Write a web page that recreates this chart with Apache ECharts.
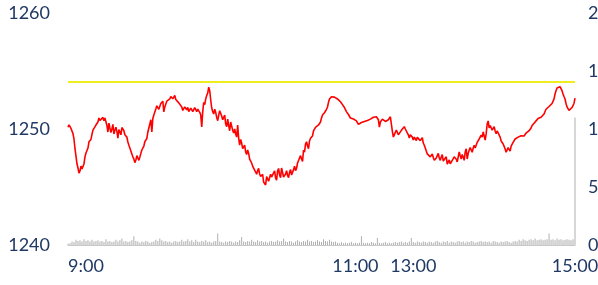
<!DOCTYPE html>
<html>
<head>
<meta charset="utf-8">
<script src="https://cdn.jsdelivr.net/npm/echarts@6/dist/echarts.min.js"></script>
<style>
  html, body { margin: 0; padding: 0; background: #fff; }
  #chart { width: 598px; height: 285px; }
</style>
</head>
<body>
<div id="chart"></div>
<script>
// price trace, read off roughly every pixel across the session
const prices = [
  1250.15, 1250.35, 1250.2, 1250.05, 1249.96, 1249.6, 1249.14, 1248.3, 1247.67, 1247.0,
  1246.64, 1246.2, 1246.38, 1246.8, 1246.55, 1246.4, 1246.98, 1247.6, 1247.93, 1247.9,
  1248.36, 1248.9, 1249.05, 1249.1, 1249.53, 1249.9, 1249.85, 1249.95, 1250.34, 1250.3,
  1250.6, 1250.95, 1250.73, 1250.6, 1250.86, 1251.0, 1250.72, 1250.95, 1250.86, 1250.3,
  1249.74, 1250.5, 1250.09, 1249.7, 1250.0, 1250.4, 1249.57, 1249.9, 1250.15, 1249.8,
  1249.22, 1249.95, 1249.74, 1249.5, 1250.13, 1250.2, 1249.85, 1249.5, 1249.4, 1249.3,
  1248.88, 1248.6, 1248.36, 1248.5, 1247.85, 1247.6, 1247.41, 1247.1, 1247.33, 1247.7,
  1247.5, 1247.3, 1247.59, 1247.9, 1248.19, 1248.1, 1248.53, 1248.9, 1249.05, 1249.2,
  1249.74, 1249.9, 1250.43, 1250.8, 1249.74, 1250.9, 1251.21, 1251.1, 1251.72, 1252.0,
  1251.98, 1251.7, 1251.87, 1252.2, 1252.33, 1252.4, 1251.47, 1251.9, 1252.07, 1252.4,
  1252.41, 1252.3, 1252.59, 1252.8, 1252.73, 1252.6, 1252.76, 1252.9, 1252.54, 1252.7,
  1252.46, 1252.25, 1252.3, 1252.1, 1251.9, 1251.6, 1251.47, 1251.9, 1251.81, 1251.65,
  1251.87, 1251.5, 1251.58, 1251.8, 1251.72, 1251.5, 1251.6, 1251.85, 1251.68, 1251.5,
  1251.72, 1251.8, 1251.44, 1251.2, 1250.17, 1251.5, 1252.3, 1252.1, 1252.59, 1252.9,
  1253.1, 1253.6, 1253.3, 1252.5, 1251.81, 1251.5, 1251.29, 1251.7, 1251.44, 1251.0,
  1250.72, 1251.2, 1251.58, 1251.7, 1251.12, 1250.8, 1250.86, 1251.2, 1250.43, 1250.2,
  1250.86, 1250.3, 1249.85, 1250.6, 1250.43, 1249.9, 1249.66, 1250.0, 1249.57, 1249.3,
  1250.34, 1249.2, 1248.62, 1249.1, 1248.79, 1248.3, 1248.45, 1248.6, 1248.02, 1247.8,
  1248.19, 1247.9, 1247.41, 1247.5, 1247.07, 1246.8, 1246.64, 1246.9, 1246.29, 1246.1,
  1246.41, 1246.6, 1246.12, 1245.9, 1245.86, 1246.1, 1245.43, 1245.5, 1245.17, 1245.9,
  1246.03, 1245.5, 1245.6, 1246.1, 1245.86, 1245.7, 1246.21, 1246.4, 1245.78, 1245.6,
  1246.38, 1246.6, 1246.03, 1245.8, 1246.64, 1246.5, 1245.86, 1245.7, 1246.12, 1246.4,
  1245.99, 1245.8, 1246.29, 1246.5, 1246.03, 1245.9, 1246.5, 1246.8, 1246.41, 1246.6,
  1247.07, 1246.9, 1247.5, 1247.7, 1247.41, 1247.2, 1248.19, 1248.0, 1248.71, 1248.9,
  1248.53, 1248.3, 1248.97, 1249.2, 1249.05, 1249.4, 1249.83, 1249.9, 1250.15, 1250.1,
  1250.26, 1250.35, 1250.26, 1250.6, 1250.95, 1251.2, 1251.34, 1251.4, 1251.55, 1251.7,
  1251.9, 1252.3, 1252.59, 1252.75, 1252.78, 1252.7, 1252.67, 1252.75, 1252.71, 1252.65,
  1252.59, 1252.55, 1252.46, 1252.35, 1252.22, 1252.1, 1251.98, 1251.85, 1251.68, 1251.5,
  1251.38, 1251.25, 1251.08, 1250.95, 1250.86, 1250.9, 1250.86, 1250.8, 1250.73, 1250.7,
  1250.56, 1250.4, 1250.34, 1250.5, 1250.56, 1250.45, 1250.52, 1250.65, 1250.69, 1250.75,
  1250.73, 1250.8, 1250.86, 1250.85, 1250.92, 1251.0, 1251.01, 1250.95, 1250.99, 1251.05,
  1250.91, 1250.8, 1250.17, 1250.6, 1250.72, 1250.85, 1250.95, 1250.8, 1250.65, 1250.75,
  1250.69, 1250.8, 1250.95, 1251.05, 1250.43, 1249.8, 1249.31, 1249.5, 1249.72, 1249.9,
  1249.74, 1249.5, 1249.57, 1249.75, 1249.85, 1250.0, 1250.13, 1250.2, 1250.0, 1250.1,
  1249.91, 1249.5, 1249.22, 1249.5, 1249.57, 1249.3, 1249.05, 1249.3, 1249.14, 1249.0,
  1249.28, 1249.4, 1249.18, 1249.0, 1249.14, 1249.25, 1248.79, 1248.6, 1248.36, 1248.1,
  1247.85, 1248.0, 1247.8, 1247.6, 1247.67, 1247.85, 1247.55, 1247.3, 1247.33, 1247.5,
  1247.7, 1247.9, 1247.5, 1247.3, 1247.59, 1247.8, 1247.24, 1247.1, 1247.37, 1247.6,
  1246.98, 1247.1, 1247.33, 1247.0, 1246.98, 1247.3, 1247.33, 1247.6, 1247.76, 1247.4,
  1247.16, 1247.6, 1248.02, 1247.7, 1247.41, 1247.8, 1247.59, 1247.3, 1248.02, 1248.3,
  1247.41, 1247.9, 1248.19, 1248.4, 1248.28, 1248.0, 1248.36, 1248.6, 1248.36, 1248.2,
  1248.85, 1249.0, 1249.14, 1249.3, 1249.48, 1249.3, 1249.74, 1249.9, 1249.05, 1249.6,
  1250.43, 1250.7, 1250.09, 1250.3, 1250.17, 1249.9, 1250.0, 1250.2, 1249.83, 1249.6,
  1249.83, 1249.95, 1249.66, 1249.3, 1248.97, 1249.1, 1248.71, 1248.5, 1248.28, 1248.0,
  1248.15, 1248.4, 1248.28, 1248.1, 1248.53, 1248.7, 1248.85, 1249.0, 1249.14, 1249.05,
  1249.22, 1249.3, 1249.35, 1249.25, 1249.42, 1249.5, 1249.57, 1249.4, 1249.48, 1249.65,
  1249.74, 1249.8, 1249.85, 1249.95, 1250.09, 1250.3, 1250.43, 1250.5, 1250.6, 1250.7,
  1250.82, 1250.9, 1250.95, 1250.9, 1251.01, 1251.1, 1251.15, 1251.3, 1251.51, 1251.7,
  1251.85, 1251.8, 1251.94, 1252.05, 1252.11, 1252.2, 1252.3, 1252.6, 1253.02, 1253.3,
  1253.53, 1253.45, 1253.53, 1253.65, 1253.58, 1253.3, 1253.02, 1252.8, 1252.59, 1252.2,
  1251.9, 1251.75, 1251.6, 1251.65, 1251.77, 1251.85, 1251.81, 1252.2, 1252.67
];

// traded volume, one bar about every 2px (right axis)
const volumes = [
  0.1, 0.15, 0.3, 0.25, 0.45, 0.35, 0.4, 0.3, 0.5, 0.35, 0.4, 0.3, 0.45, 0.3, 0.35,
  0.4, 0.3, 0.35, 0.25, 0.5, 0.3, 0.35, 0.25, 0.3, 0.45, 0.3, 0.4, 0.55, 0.3, 0.35,
  0.25, 0.3, 0.4, 0.75, 0.35, 0.3, 0.2, 0.3, 0.25, 0.35, 0.3, 0.2, 0.25, 0.3, 0.45,
  0.35, 0.55, 0.4, 0.3, 0.35, 0.25, 0.3, 0.2, 0.3, 0.35, 0.25, 0.3, 0.45, 0.3, 0.35,
  0.5, 0.3, 0.4, 0.25, 0.45, 0.3, 0.25, 0.35, 0.3, 0.4, 0.25, 0.3, 0.2, 0.3, 0.35,
  1.0, 0.3, 0.25, 0.2, 0.3, 0.25, 0.35, 0.3, 0.2, 0.3, 0.25, 0.4, 0.7, 0.3, 0.25,
  0.35, 0.3, 0.45, 0.3, 0.25, 0.4, 0.3, 0.35, 0.25, 0.3, 0.2, 0.3, 0.35, 0.25, 0.3,
  0.4, 0.3, 0.35, 0.55, 0.3, 0.25, 0.35, 0.3, 0.2, 0.3, 0.4, 0.3, 0.25, 0.35, 0.3,
  0.45, 0.3, 0.35, 0.25, 0.3, 0.4, 0.3, 0.25, 0.5, 0.35, 0.3, 0.45, 0.3, 0.25, 0.3,
  0.2, 0.15, 0.25, 0.15, 0.2, 0.15, 0.2, 0.25, 0.15, 0.2, 0.15, 0.2, 0.75, 0.2, 0.15,
  0.2, 0.15, 0.25, 0.2, 0.15, 0.6, 0.2, 0.15, 0.2, 0.25, 0.15, 0.2, 0.15, 0.2, 0.25,
  0.2, 0.25, 0.3, 0.2, 0.25, 0.2, 0.3, 0.6, 0.25, 0.2, 0.3, 0.25, 0.2, 0.3, 0.25,
  0.2, 0.3, 0.25, 0.2, 0.3, 0.35, 0.25, 0.2, 0.3, 0.25, 0.35, 0.2, 0.3, 0.25, 0.2,
  0.3, 0.35, 0.25, 0.3, 0.2, 0.3, 0.25, 0.35, 0.3, 0.2, 0.25, 0.3, 0.35, 0.25, 0.3,
  0.25, 0.3, 0.2, 0.35, 0.3, 0.25, 0.2, 0.3, 0.25, 0.3, 0.35, 0.25, 0.2, 0.3, 0.35,
  0.3, 0.45, 0.35, 0.5, 0.4, 0.35, 0.45, 0.5, 0.4, 0.55, 0.4, 0.45, 0.5, 0.4, 0.45,
  0.5, 1.0, 0.45, 0.5, 0.4, 0.55, 0.45, 0.5, 0.4, 0.45, 0.5, 0.45, 0.4, 0.5, 11
];

const refLevel = 1254.05;

// volume bars that carry a time label
const tickIdx = [9, 144, 173, 254];
const tickText = ['9:00', '11:00', '13:00', '15:00'];

const volCats = volumes.map((v, i) => String(i));
const priceCats = prices.map((p, i) => String(i));

const textColor = '#1F3864';
const font = 'Lato';

const chart = echarts.init(document.getElementById('chart'));
chart.setOption({
  animation: false,
  grid: { left: 68, right: 23, top: 13, bottom: 40, outerBoundsMode: 'none' },
  xAxis: [
    {
      type: 'category',
      data: volCats,
      boundaryGap: false,
      axisTick: { show: false },
      axisLine: { lineStyle: { color: '#C8C8C8', width: 1 } },
      axisLabel: {
        color: textColor,
        fontFamily: font,
        fontSize: 18,
        margin: 12,
        interval: (idx) => tickIdx.includes(idx),
        formatter: (v) => {
          const k = tickIdx.indexOf(Number(v));
          return k >= 0 ? tickText[k] : '';
        }
      },
      splitLine: { show: false }
    },
    {
      type: 'category',
      data: priceCats,
      boundaryGap: false,
      show: false
    }
  ],
  yAxis: [
    {
      type: 'value',
      min: 1240, max: 1260, interval: 10,
      axisLine: { show: false },
      axisTick: { show: false },
      splitLine: { show: false },
      axisLabel: {
        color: textColor, fontFamily: font, fontSize: 18, margin: 18,
        formatter: (v) => String(v)
      }
    },
    {
      type: 'value',
      min: 0, max: 20, interval: 5,
      position: 'right',
      axisLine: { show: false },
      axisTick: { show: false },
      splitLine: { show: false },
      axisLabel: { color: textColor, fontFamily: font, fontSize: 18, margin: 13 }
    }
  ],
  series: [
    {
      name: 'volume',
      type: 'bar',
      xAxisIndex: 0,
      yAxisIndex: 1,
      data: volumes,
      barWidth: 1,
      itemStyle: { color: '#AFAFAF' },
      silent: true
    },
    {
      name: 'price',
      type: 'line',
      xAxisIndex: 1,
      yAxisIndex: 0,
      data: prices,
      symbol: 'none',
      lineStyle: { color: '#FF0000', width: 1.6 },
      markLine: {
        silent: true,
        symbol: 'none',
        label: { show: false },
        lineStyle: { color: '#EEEE1E', width: 2, type: 'solid' },
        data: [{ yAxis: refLevel }]
      }
    }
  ]
});
</script>
</body>
</html>
